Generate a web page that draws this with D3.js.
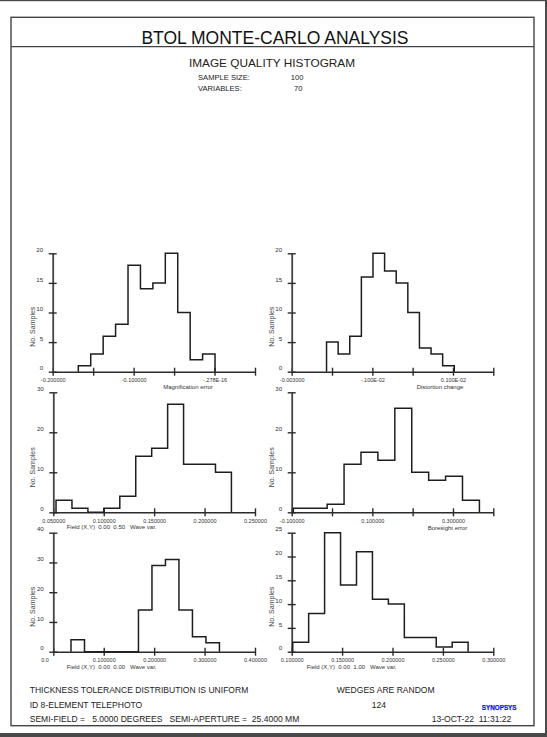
<!DOCTYPE html>
<html>
<head>
<meta charset="utf-8">
<script src="https://cdn.jsdelivr.net/npm/d3@7"></script>
<style>
  html, body { margin: 0; padding: 0; background: #fff; }
  svg { display: block; }
  text { font-family: "Liberation Sans", Arial, sans-serif; }
</style>
</head>
<body>
<svg id="chart" width="547" height="737"></svg>
<script>
// ---------------- DATA ----------------
const titleText = "BTOL MONTE-CARLO ANALYSIS";
const subtitleText = "IMAGE QUALITY HISTOGRAM";
const infoLabels = ["SAMPLE SIZE:", "VARIABLES:"];
const infoValues = ["100", "70"];

const footerLeft = ["THICKNESS TOLERANCE DISTRIBUTION IS UNIFORM", "ID 8-ELEMENT TELEPHOTO", "SEMI-FIELD =   5.0000 DEGREES   SEMI-APERTURE =  25.4000 MM"];
const footerRight = ["WEDGES ARE RANDOM", "124"];
const footerDate = "13-OCT-22  11:31:22";
const logoText = "SYNOPSYS";

// Panel 1: Magnification error
const magCounts = [1, 3, 6, 8, 18, 14, 15, 20, 10, 2, 3];
const magBinStart = -0.16836, magBinWidth = 0.01536;
const magXDomain = [-0.2, 0.05];
const magXTicks = [-0.2, -0.15, -0.1, -0.05, 0, 0.05];
const magXLabels = ["-0.200000", "", "-0.100000", "", "-.278E-16", ""];
const magYTicks = [0, 5, 10, 15, 20];

// Panel 2: Distortion change
const distCounts = [5, 3, 6, 16, 20, 17, 15, 10, 4, 3, 1];
const distBinStart = -0.002136, distBinWidth = 0.000288;
const distXDomain = [-0.003, 0.002];
const distXTicks = [-0.003, -0.002, -0.001, 0, 0.001, 0.002];
const distXLabels = ["-0.003000", "", "-.100E-02", "", "0.100E-02", ""];
const distYTicks = [0, 5, 10, 15, 20];

// Panel 3: Field 0.00 0.50 wave var.
const f050Counts = [3, 1, 0, 1, 4, 14, 16, 27, 12, 12, 10];
const f050BinStart = 0.0527, f050BinWidth = 0.01581;
const f050XDomain = [0.05, 0.25];
const f050XTicks = [0.05, 0.1, 0.15, 0.2, 0.25];
const f050XLabels = ["0.050000", "0.100000", "0.150000", "0.200000", "0.250000"];
const f050YTicks = [0, 10, 20, 30];

// Panel 4: Boresight error
const boreCounts = [1, 1, 2, 12, 15, 13, 26, 10, 8, 9, 3];
const boreBinStart = -0.096, boreBinWidth = 0.04196;
const boreXDomain = [-0.1, 0.4];
const boreXTicks = [-0.1, 0, 0.1, 0.2, 0.3, 0.4];
const boreXLabels = ["-0.100000", "", "0.100000", "", "0.300000", ""];
const boreYTicks = [0, 10, 20, 30];

// Panel 5: Field 0.00 0.00 wave var.
const f000Counts = [4, 0, 0, 0, 0, 14, 29, 31, 14, 5, 3];
const f000BinStart = 0.0351, f000BinWidth = 0.02676;
const f000XDomain = [0, 0.4];
const f000XTicks = [0, 0.1, 0.2, 0.3, 0.4];
const f000XLabels = ["0.0", "0.100000", "0.200000", "0.300000", "0.400000"];
const f000YTicks = [0, 10, 20, 30, 40];

// Panel 6: Field 0.00 1.00 wave var.
const f100Counts = [2, 8, 25, 14, 21, 11, 10, 3, 3, 1, 2];
const f100BinStart = 0.101, f100BinWidth = 0.01582;
const f100XDomain = [0.1, 0.3];
const f100XTicks = [0.1, 0.15, 0.2, 0.25, 0.3];
const f100XLabels = ["0.100000", "0.150000", "0.200000", "0.250000", "0.300000"];
const f100YTicks = [0, 5, 10, 15, 20, 25];

const captions = [
  "Magnification error",
  "Distortion change",
  "Field (X,Y)  0.00  0.50   Wave var.",
  "Boresight error",
  "Field (X,Y)  0.00  0.00   Wave var.",
  "Field (X,Y)  0.00  1.00   Wave var."
];
const yAxisLabel = "No. Samples";

// ---------------- LAYOUT ----------------
const svg = d3.select("#chart");
const INK = "#2b2b2b";

// outer window frame
svg.append("rect").attr("x", 0).attr("y", 0).attr("width", 547).attr("height", 1.2).attr("fill", "#4a4a4a");
svg.append("rect").attr("x", 545).attr("y", 0).attr("width", 2).attr("height", 737).attr("fill", "#4a4a4a");
svg.append("rect").attr("x", 0).attr("y", 733).attr("width", 547).attr("height", 4).attr("fill", "#4a4a4a");

// page box
svg.append("rect").attr("x", 11).attr("y", 17.3).attr("width", 523).attr("height", 708.4)
  .attr("fill", "none").attr("stroke", "#444").attr("stroke-width", 1.4);
svg.append("line").attr("x1", 11).attr("x2", 534).attr("y1", 46.7).attr("y2", 46.7)
  .attr("stroke", "#444").attr("stroke-width", 1.3);

svg.append("text").attr("x", 275).attr("y", 43.5).attr("text-anchor", "middle")
  .attr("font-size", 17.5).attr("fill", "#111").text(titleText);
svg.append("text").attr("x", 272).attr("y", 67).attr("text-anchor", "middle")
  .attr("font-size", 11.8).attr("fill", "#222").text(subtitleText);

infoLabels.forEach((t, i) => {
  svg.append("text").attr("x", 198).attr("y", 79.5 + i * 11.5).attr("font-size", 7.6).attr("fill", "#222").text(t);
});
infoValues.forEach((t, i) => {
  svg.append("text").attr("x", i === 0 ? 290.7 : 294).attr("y", 79.5 + i * 11.5).attr("font-size", 7.6).attr("fill", "#222").text(t);
});

// footer
const FOOT = 8.55;
footerLeft.forEach((t, i) => {
  svg.append("text").attr("x", 29.7).attr("y", 692.8 + i * 14.8).attr("font-size", FOOT)
    .attr("fill", "#222").style("white-space", "pre").text(t);
});
svg.append("text").attr("x", 336.8).attr("y", 692.8).attr("font-size", FOOT).attr("fill", "#222").text(footerRight[0]);
svg.append("text").attr("x", 371.7).attr("y", 707.6).attr("font-size", FOOT).attr("fill", "#222").text(footerRight[1]);
svg.append("text").attr("x", 511.3).attr("y", 722.4).attr("text-anchor", "end").attr("font-size", FOOT)
  .attr("fill", "#222").style("white-space", "pre").text(footerDate);
svg.append("text").attr("x", 516.5).attr("y", 710).attr("text-anchor", "end").attr("font-size", 6.3)
  .attr("font-weight", "bold").attr("fill", "#1414ff").attr("stroke", "#1414ff").attr("stroke-width", 0.25)
  .text(logoText);

// panels
const panels = [
  { counts: magCounts, start: magBinStart, width: magBinWidth, xd: magXDomain, xt: magXTicks, xl: magXLabels, yt: magYTicks,
    x0: 52.7, x1: 255, y0: 371.7, y1: 253.3, cap: captions[0], capX: 188, capAnchor: "middle", capDy: 17 },
  { counts: distCounts, start: distBinStart, width: distBinWidth, xd: distXDomain, xt: distXTicks, xl: distXLabels, yt: distYTicks,
    x0: 291.7, x1: 493.3, y0: 371.7, y1: 253.3, cap: captions[1], capX: 440, capAnchor: "middle", capDy: 17 },
  { counts: f050Counts, start: f050BinStart, width: f050BinWidth, xd: f050XDomain, xt: f050XTicks, xl: f050XLabels, yt: f050YTicks,
    x0: 53.3, x1: 255, y0: 512.3, y1: 392.3, cap: captions[2], capX: 66.7, capAnchor: "start", capDy: 16.4 },
  { counts: boreCounts, start: boreBinStart, width: boreBinWidth, xd: boreXDomain, xt: boreXTicks, xl: boreXLabels, yt: boreYTicks,
    x0: 291.7, x1: 493.3, y0: 512.3, y1: 392.3, cap: captions[3], capX: 447.5, capAnchor: "middle", capDy: 17.4 },
  { counts: f000Counts, start: f000BinStart, width: f000BinWidth, xd: f000XDomain, xt: f000XTicks, xl: f000XLabels, yt: f000YTicks,
    x0: 53.3, x1: 255, y0: 651.7, y1: 532.7, cap: captions[4], capX: 66.7, capAnchor: "start", capDy: 17 },
  { counts: f100Counts, start: f100BinStart, width: f100BinWidth, xd: f100XDomain, xt: f100XTicks, xl: f100XLabels, yt: f100YTicks,
    x0: 291.7, x1: 493.3, y0: 651.7, y1: 532.7, cap: captions[5], capX: 306.7, capAnchor: "start", capDy: 17 }
];

panels.forEach(p => {
  const x = d3.scaleLinear().domain(p.xd).range([p.x0, p.x1]);
  const yMax = p.yt[p.yt.length - 1];
  const y = d3.scaleLinear().domain([0, yMax]).range([p.y0, p.y1]);
  const g = svg.append("g");

  // y axis label
  g.append("text")
    .attr("transform", `translate(${p.x0 - 18},${p.y0 - 45}) rotate(-90)`)
    .attr("text-anchor", "middle").attr("font-size", 7).attr("fill", "#444").text(yAxisLabel);

  // x axis
  const xa = g.append("g").attr("transform", `translate(0,${p.y0})`)
    .call(d3.axisBottom(x).tickValues(p.xt).tickSizeOuter(0).tickFormat((d, i) => p.xl[i]));
  xa.select(".domain").attr("stroke", INK).attr("stroke-width", 1.5);
  xa.selectAll(".tick line").attr("y1", -4).attr("y2", 4).attr("stroke", INK).attr("stroke-width", 1.4);
  xa.selectAll(".tick text").attr("y", 10.5).attr("dy", 0).attr("font-size", 5.5)
    .attr("font-family", '"Liberation Sans", Arial, sans-serif').attr("fill", "#333")
    .each(function (d, i) {
      if (p.xl[i].length <= 4) d3.select(this).attr("text-anchor", "start").attr("dx", -12.6);
    });

  // y axis
  const ya = g.append("g").attr("transform", `translate(${p.x0},0)`)
    .call(d3.axisLeft(y).tickValues(p.yt).tickSizeOuter(0).tickFormat(d3.format("d")));
  ya.select(".domain").attr("stroke", "#444").attr("stroke-width", 1.8);
  ya.selectAll(".tick line").attr("x1", -4).attr("x2", 4).attr("stroke", INK).attr("stroke-width", 1.4);
  ya.selectAll(".tick text").attr("x", -9.5).attr("dy", "-0.3em").attr("font-size", 6.2)
    .attr("font-family", '"Liberation Sans", Arial, sans-serif').attr("fill", "#333");

  // histogram outline
  const n = p.counts.length;
  const edges = d3.range(n + 1).map(i => p.start + i * p.width);
  const pts = [[edges[0], 0]];
  p.counts.forEach((c, i) => { pts.push([edges[i], c]); pts.push([edges[i + 1], c]); });
  pts.push([edges[n], 0]);
  g.append("path").datum(pts)
    .attr("d", d3.line().x(d => x(d[0])).y(d => y(d[1])))
    .attr("fill", "none").attr("stroke", "#1e1e1e").attr("stroke-width", 1.5);

  // caption
  g.append("text").attr("x", p.capX).attr("y", p.y0 + p.capDy).attr("text-anchor", p.capAnchor)
    .attr("font-size", 6).attr("fill", "#333").style("white-space", "pre").text(p.cap);
});
</script>
</body>
</html>
